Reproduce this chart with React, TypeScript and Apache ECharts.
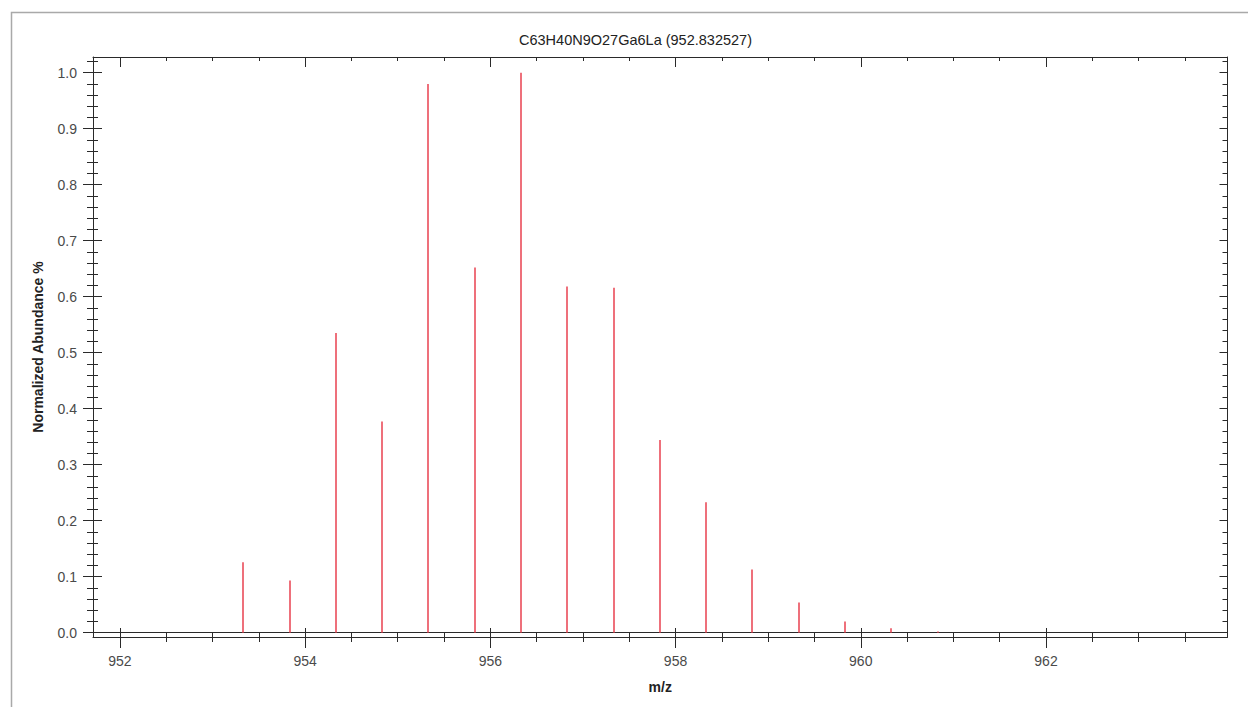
import React, { useEffect, useRef } from 'react';
import * as echarts from 'echarts';

const chartTitle = 'C63H40N9O27Ga6La (952.832527)';
const xAxisName = 'm/z';
const yAxisName = 'Normalized Abundance %';

const mzValues = [
  953.333, 953.833, 954.332, 954.832, 955.332, 955.831, 956.331, 956.831,
  957.331, 957.831, 958.331, 958.831, 959.331, 959.831, 960.331, 960.831,
];
const abundanceValues = [
  0.126, 0.093, 0.535, 0.377, 0.98, 0.652, 1.0, 0.618,
  0.616, 0.344, 0.233, 0.113, 0.054, 0.02, 0.008, 0.002,
];

const xMajorTicks = [952, 954, 956, 958, 960, 962];
const xMinorTicks = [
  952, 952.5, 953, 953.5, 954, 954.5, 955, 955.5, 956, 956.5, 957, 957.5,
  958, 958.5, 959, 959.5, 960, 960.5, 961, 961.5, 962, 962.5, 963, 963.5,
];
const yMajorTicks = [0, 0.1, 0.2, 0.3, 0.4, 0.5, 0.6, 0.7, 0.8, 0.9, 1.0];
const yMinorTicks = [
  0, 0.02, 0.04, 0.06, 0.08, 0.1, 0.12, 0.14, 0.16, 0.18, 0.2, 0.22, 0.24,
  0.26, 0.28, 0.3, 0.32, 0.34, 0.36, 0.38, 0.4, 0.42, 0.44, 0.46, 0.48, 0.5,
  0.52, 0.54, 0.56, 0.58, 0.6, 0.62, 0.64, 0.66, 0.68, 0.7, 0.72, 0.74, 0.76,
  0.78, 0.8, 0.82, 0.84, 0.86, 0.88, 0.9, 0.92, 0.94, 0.96, 0.98, 1.0, 1.02,
];

const X_MIN = 951.71;
const X_MAX = 963.96;
const Y_MIN = -0.0077;
const Y_MAX = 1.028;

const FONT = "Arial, 'Liberation Sans', sans-serif";
const AXIS_COLOR = '#2a2a2a';
const PEAK_COLOR = '#e8414f';

function xAx(position: string, opts: any) {
  return {
    type: 'value',
    min: X_MIN,
    max: X_MAX,
    position,
    axisLine: { show: !!opts.line, onZero: !!opts.onZero, onZeroAxisIndex: opts.onZero ? 0 : undefined, lineStyle: { color: AXIS_COLOR, width: 1 } },
    axisTick: opts.ticks
      ? { show: true, customValues: opts.ticks, inside: !!opts.inside, length: opts.length, lineStyle: { color: AXIS_COLOR, width: 1 } }
      : { show: false },
    axisLabel: { show: false },
    splitLine: { show: false },
  };
}

function yAx(position: string, opts: any) {
  return {
    type: 'value',
    min: Y_MIN,
    max: Y_MAX,
    position,
    axisLine: { show: !!opts.line, onZero: false, lineStyle: { color: AXIS_COLOR, width: 1 } },
    axisTick: opts.ticks
      ? { show: true, customValues: opts.ticks, inside: !!opts.inside, length: opts.length, lineStyle: { color: AXIS_COLOR, width: 1 } }
      : { show: false },
    axisLabel: { show: false },
    splitLine: { show: false },
  };
}

export default function App() {
  const ref = useRef<HTMLDivElement>(null);

  useEffect(() => {
    if (!ref.current) return;
    const chart = echarts.init(ref.current, undefined, { renderer: 'svg' });

    const mainX: any = xAx('bottom', { line: true, ticks: xMajorTicks, length: 11 });
    mainX.axisLabel = {
      show: true,
      customValues: xMajorTicks,
      margin: 17,
      fontSize: 14,
      color: '#4a4a4a',
      fontFamily: FONT,
    };
    mainX.name = xAxisName;
    mainX.nameLocation = 'middle';
    mainX.nameGap = 43;
    mainX.nameTextStyle = { fontSize: 14, fontWeight: 'bold', color: '#222', fontFamily: FONT };

    const mainY: any = yAx('left', { line: true, ticks: yMajorTicks, length: 10 });
    mainY.axisLabel = {
      show: true,
      customValues: yMajorTicks,
      margin: 16,
      fontSize: 14,
      color: '#4a4a4a',
      fontFamily: FONT,
      formatter: (v: number) => v.toFixed(1),
    };
    mainY.name = yAxisName;
    mainY.nameLocation = 'middle';
    mainY.nameRotate = 90;
    mainY.nameGap = 48;
    mainY.nameTextStyle = { fontSize: 14, fontWeight: 'bold', color: '#222', fontFamily: FONT };

    const option: any = {
      animation: false,
      backgroundColor: '#ffffff',
      grid: { left: 93, right: 20.5, top: 57, bottom: 70, containLabel: false },
      graphic: [
        {
          type: 'rect',
          silent: true,
          shape: { x: 11.5, y: 12.5, width: 1400, height: 800 },
          style: { fill: 'none', stroke: '#a9a9a9', lineWidth: 1.5 },
        },
        {
          type: 'text',
          x: 635.5,
          y: 40,
          style: {
            text: chartTitle,
            fontSize: 14.5,
            fontFamily: FONT,
            fill: '#222',
            textAlign: 'center',
            textVerticalAlign: 'middle',
          },
        },
      ],
      xAxis: [
        mainX,
        xAx('bottom', { ticks: xMajorTicks, inside: true, length: 9 }),
        xAx('bottom', { ticks: xMinorTicks, length: 5 }),
        xAx('bottom', { ticks: xMinorTicks, inside: true, length: 4 }),
        xAx('top', { line: true, ticks: xMajorTicks, inside: true, length: 10 }),
        xAx('top', { ticks: xMinorTicks, inside: true, length: 4 }),
        xAx('bottom', { line: true, onZero: true }),
      ],
      yAxis: [
        mainY,
        yAx('left', { ticks: yMajorTicks, inside: true, length: 9 }),
        yAx('left', { ticks: yMinorTicks, length: 6 }),
        yAx('left', { ticks: yMinorTicks, inside: true, length: 5 }),
        yAx('right', { line: true, ticks: yMajorTicks, inside: true, length: 8 }),
        yAx('right', { ticks: yMinorTicks, inside: true, length: 5 }),
      ],
      series: [
        {
          type: 'custom',
          xAxisIndex: 0,
          yAxisIndex: 0,
          encode: { x: 0, y: 1 },
          data: mzValues.map((m, i) => [m, abundanceValues[i]]),
          renderItem: (params: any, api: any) => {
            const x = api.value(0);
            const y = api.value(1);
            const p0 = api.coord([x, 0]);
            const p1 = api.coord([x, y]);
            const px = Math.round(p0[0]);
            return {
              type: 'line',
              shape: { x1: px, y1: p0[1], x2: px, y2: p1[1] },
              style: { stroke: PEAK_COLOR, lineWidth: 1.5 },
            };
          },
        },
      ],
    };

    chart.setOption(option);
    return () => chart.dispose();
  }, []);

  return (
    <div
      ref={ref}
      style={{ position: 'fixed', left: 0, top: 0, width: 1248, height: 707, background: '#fff' }}
    />
  );
}
